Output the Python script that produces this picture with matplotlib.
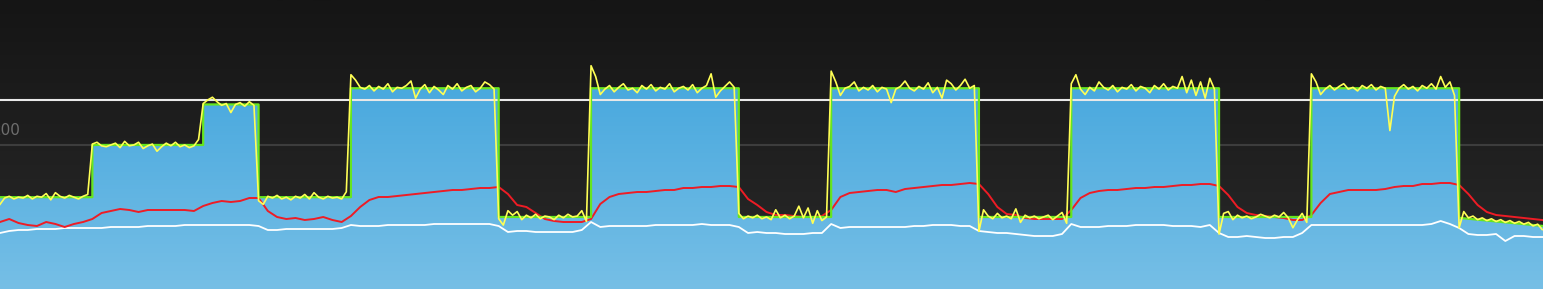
import numpy as np
import matplotlib
matplotlib.use("Agg")
import matplotlib.pyplot as plt
from matplotlib.patches import Polygon
from matplotlib.colors import LinearSegmentedColormap

# workout target steps (start minute, watts); last step is the cool-down ramp
step_start = [0, 5, 11, 14, 19, 27, 32, 40, 45, 53, 58, 66, 71, 79]
step_watts = [142, 200, 245, 142, 263, 120, 263, 120, 263, 120, 263, 120, 263, 119]
cooldown_end_watts = 110
t_end = 83.54
ftp = 250

# actual power, one value every 0.25 min
power = [
    134, 141, 143, 140, 142, 141, 144, 140, 143, 142, 146, 139, 147, 143, 141, 144, 142, 140, 143, 145,
    201, 203, 199, 198, 200, 202, 197, 204, 199, 200, 203, 196, 199, 201, 193, 198, 202, 199, 203, 198,
    200, 197, 199, 206,
    246, 250, 253, 248, 244, 246, 236, 245, 247, 243, 248, 244,
    138, 134, 143, 141, 144, 140, 142, 139, 143, 141, 145, 140, 147, 142, 140, 143, 141, 142, 140, 148,
    278, 272, 264, 262, 266, 260, 265, 262, 268, 259, 264, 263, 266, 271, 252, 262, 267, 258, 265, 261,
    256, 266, 262, 268, 260, 264, 266, 259, 263, 270, 267, 262,
    118, 111, 127, 122, 126, 117, 122, 119, 123, 118, 121, 120, 117, 122, 119, 123, 120, 121, 127, 115,
    288, 276, 256, 262, 266, 259, 264, 268, 261, 263, 258, 266, 262, 267, 260, 264, 262, 268, 259, 263,
    265, 261, 267, 258, 263, 266, 279, 253, 260, 265, 270, 264,
    124, 118, 121, 119, 122, 118, 120, 117, 128, 119, 122, 118, 121, 132, 119, 130, 113, 127, 116, 120,
    282, 270, 255, 263, 265, 270, 260, 264, 261, 266, 259, 264, 262, 247, 262, 265, 271, 263, 260, 265,
    262, 269, 258, 264, 252, 272, 268, 261, 266, 273, 263, 266,
    104, 128, 121, 118, 124, 119, 121, 118, 129, 114, 122, 119, 121, 118, 120, 122, 117, 121, 125, 113,
    268, 278, 262, 256, 264, 260, 270, 264, 261, 266, 259, 264, 262, 267, 260, 265, 263, 258, 266, 262,
    268, 261, 265, 263, 276, 258, 272, 255, 270, 252, 274, 262,
    101, 124, 126, 117, 122, 119, 121, 118, 120, 123, 121, 119, 122, 120, 125, 119, 108, 117, 124, 114,
    279, 270, 256, 262, 266, 261, 265, 268, 262, 264, 260, 266, 263, 267, 261, 265, 263, 216, 254, 263,
    267, 262, 265, 260, 266, 263, 268, 262, 276, 264, 270, 255,
    108, 126, 119, 121, 117, 119, 116, 118, 115, 117, 114, 116, 113, 115, 112, 114, 110, 112, 106,
]

# heart rate, one value every 0.5 min
heart_rate = [
    118, 121, 117, 115, 114, 118, 116, 113, 116, 118,
    121, 127, 129, 131, 130, 128, 130, 130, 130, 130, 130, 129,
    134, 137, 139, 138, 139, 142,
    142, 129, 123, 121, 122, 120, 121, 123, 120, 118,
    124, 133, 140, 143, 143, 144, 145, 146, 147, 148, 149, 150, 150, 151, 152, 152,
    153, 146, 135, 133, 127, 121, 119, 118, 118, 118,
    121, 136, 143, 146, 147, 148, 148, 149, 150, 150, 152, 152, 153, 153, 154, 154,
    153, 141, 135, 128, 125, 125, 124, 123, 123, 124,
    130, 143, 147, 148, 149, 150, 150, 148, 151, 152, 153, 154, 155, 155, 156, 157,
    156, 146, 133, 126, 125, 122, 121, 121, 121, 121,
    130, 142, 147, 149, 150, 150, 151, 152, 152, 153, 153, 154, 155, 155, 156, 156,
    154, 145, 133, 127, 125, 124, 123, 122, 120, 120,
    125, 137, 146, 148, 150, 150, 150, 150, 151, 153, 154, 154, 156, 156, 157, 157,
    155, 146, 135, 128, 125, 124, 123, 122, 121, 120,
]

# cadence, one value every 0.5 min
cadence = [
    84, 86, 87, 87, 88, 88, 88, 89, 89, 89,
    89, 89, 90, 90, 90, 90, 91, 91, 91, 91, 92, 92,
    92, 92, 92, 92, 92, 92,
    91, 87, 87, 88, 88, 88, 88, 88, 88, 89,
    92, 91, 91, 91, 92, 92, 92, 92, 92, 93, 93, 93, 93, 93, 93, 93,
    91, 85, 86, 86, 85, 85, 85, 85, 85, 87,
    95, 90, 91, 91, 91, 91, 91, 92, 92, 92, 92, 92, 93, 92, 92, 92,
    90, 84, 85, 84, 84, 83, 83, 83, 84, 84,
    93, 89, 90, 90, 90, 90, 90, 90, 90, 91, 91, 92, 92, 92, 91, 91,
    86, 85, 84, 84, 83, 82, 81, 81, 81, 83,
    93, 90, 90, 90, 91, 91, 91, 92, 92, 92, 92, 91, 91, 91, 90, 92,
    84, 80, 80, 81, 80, 79, 79, 80, 80, 84,
    92, 92, 92, 92, 92, 92, 92, 92, 92, 92, 92, 92, 92, 93, 96, 93,
    89, 83, 82, 82, 83, 76, 81, 81, 80, 80,
]

t_power = np.arange(len(power)) * 0.25
t_slow = np.arange(len(heart_rate)) * 0.5

# target outline from the step lists
bounds = step_start + [t_end]
tx, ty = [], []
for i, w in enumerate(step_watts):
    tx += [bounds[i], bounds[i + 1]]
    ty += [w, w]
ty[-1] = cooldown_end_watts

fig = plt.figure(figsize=(15.43, 2.89), dpi=100)
ax = fig.add_axes([0, 0, 1, 1])
pw_lim = (40, 361)

# dark background gradient
bg = LinearSegmentedColormap.from_list("bg", ["#151515", "#2a2a2a"])
ax.imshow(np.linspace(0, 1, 256).reshape(-1, 1), extent=[0, t_end, pw_lim[0], pw_lim[1]],
          aspect="auto", cmap=bg, origin="upper", zorder=0)

# grid line + label (label sits half off the left edge, like the source)
ax.axhline(200, color="#3d3d3d", lw=1.5, zorder=1)
ax.text(1.15, 216, "200", color="#6e6e6e", fontsize=11, ha="right", va="center", zorder=1)

# blue area under the target
poly = Polygon(list(zip(tx, ty)) + [(t_end, pw_lim[0]), (0, pw_lim[0])], closed=True,
               facecolor="none", edgecolor="none")
ax.add_patch(poly)
blue = LinearSegmentedColormap.from_list("blue", ["#48a8de", "#76bfe6"])
im = ax.imshow(np.linspace(0, 1, 256).reshape(-1, 1), extent=[0, t_end, pw_lim[0], 270],
               aspect="auto", cmap=blue, origin="upper", zorder=2)
im.set_clip_path(poly)

ax.axhline(ftp, color="#e8e8e8", lw=1.5, zorder=3)
ax.set_xlim(0, t_end)
ax.set_ylim(*pw_lim)
ax.axis("off")

ax_cad = ax.twinx()
ax_cad.plot(t_slow, cadence, color="#ffffff", lw=1.3)
ax_cad.set_ylim(28, 317)
ax_cad.axis("off")

ax_hr = ax.twinx()
ax_hr.plot(t_slow, heart_rate, color="#ee1c25", lw=1.4)
ax_hr.set_ylim(51, 340)
ax_hr.axis("off")

ax_pw = ax.twinx()
ax_pw.plot(tx, ty, color="#66e61e", lw=1.6)
ax_pw.plot(t_power, power, color="#ffff55", lw=1.2)
ax_pw.set_ylim(*pw_lim)
ax_pw.axis("off")
ax_pw.set_xlim(0, t_end)

fig.savefig("out.png", dpi=100)
